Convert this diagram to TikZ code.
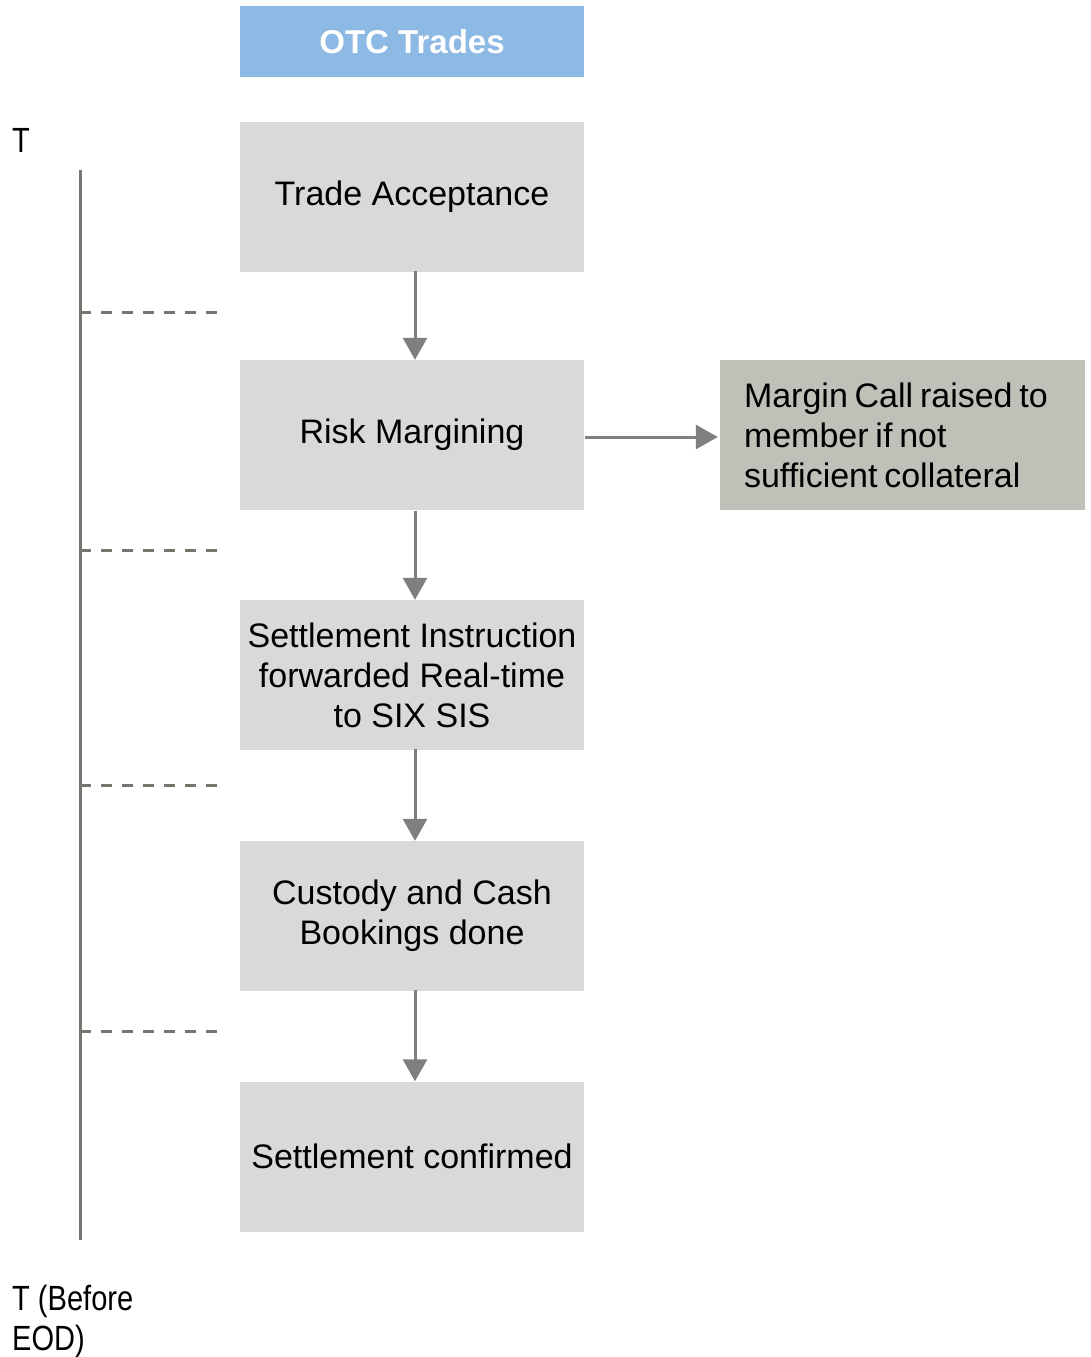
\documentclass[tikz,border=0pt]{standalone}
\usepackage{fontspec}
\setmainfont{Liberation Sans}
\newfontfamily\narrowfont[FakeStretch=0.83]{Liberation Sans}
\usetikzlibrary{arrows.meta}
\definecolor{boxgray}{HTML}{D9D9D9}
\definecolor{notegray}{HTML}{BFC1B9}
\definecolor{headblue}{HTML}{8DB9E5}
\definecolor{arrowgray}{HTML}{7F7F7F}
\definecolor{linegray}{HTML}{76766F}
\tikzset{
  stepbox/.style={fill=boxgray, draw=none, minimum width=344pt, minimum height=150pt,
    inner sep=0pt, align=center, font=\fontsize{34}{40}\selectfont},
  headbox/.style={fill=headblue, draw=none, minimum width=344pt, minimum height=71pt,
    inner sep=0pt, text=white, font=\fontsize{33}{40}\selectfont\bfseries},
  notebox/.style={fill=notegray, draw=none, minimum width=365pt, minimum height=150pt,
    inner xsep=24pt, inner ysep=0pt, text width=317pt, align=left,
    font=\fontsize{34}{40}\selectfont},
  flow/.style={draw=arrowgray, line width=3pt, -{Triangle[width=24pt,length=22pt]}},
  timeline/.style={draw=linegray, line width=3pt},
  tick/.style={draw=linegray, line width=3pt, dash pattern=on 11pt off 10pt},
  sidelabel/.style={anchor=base west, inner sep=0pt, align=left,
    font=\narrowfont\fontsize{35}{40}\selectfont},
}
\begin{document}
\begin{tikzpicture}[x=1pt, y=-1pt]
\useasboundingbox (0,0) rectangle (1091,1357);

% header and process steps
\node[headbox] (otc) at (412,41.5) {OTC Trades};
\node[stepbox] (ta) at (412,196.5) {Trade Acceptance};
\node[stepbox] (rm) at (412,435) {Risk Margining};
\node[stepbox] (si) at (412,675) {Settlement Instruction\\forwarded Real-time\\to SIX SIS};
\node[stepbox] (cc) at (412,916) {Custody and Cash\\Bookings done};
\node[stepbox] (sc) at (412,1156.5) {Settlement confirmed};
\node[notebox] (mc) at (902.5,435) {\spaceskip=0.2em plus 0.05em\relax
  Margin Call raised to\\member if not\\sufficient collateral};

% flow arrows
\draw[flow, shorten <=1pt] (ta.south -| 415,0) ++(0,-2) -- (rm.north -| 415,0);
\draw[flow, shorten <=3pt] (rm.south -| 415,0) ++(0,-2) -- (si.north -| 415,0);
\draw[flow, shorten <=1pt] (si.south -| 415,0) ++(0,-2) -- (cc.north -| 415,0);
\draw[flow, shorten <=1pt] (cc.south -| 415,0) ++(0,-2) -- (sc.north -| 415,0);
\draw[flow, shorten <=1pt, shorten >=2pt] (rm.east |- 0,437) -- (mc.west |- 0,437);

% time axis
\coordinate (ttop) at (80,170);
\coordinate (tbot) at (80,1240);
\draw[timeline] (ttop) -- (tbot);
\foreach \y in {312,550,785,1031} {
  \coordinate (a) at (80,\y);
  \coordinate (b) at (218,\y);
  \draw[tick] (a) -- (b);
}
\node[sidelabel] (tstart) at (12,152) {T};
\node[sidelabel] (tend) at (12,1350) {T (Before\\EOD)};
\end{tikzpicture}
\end{document}
